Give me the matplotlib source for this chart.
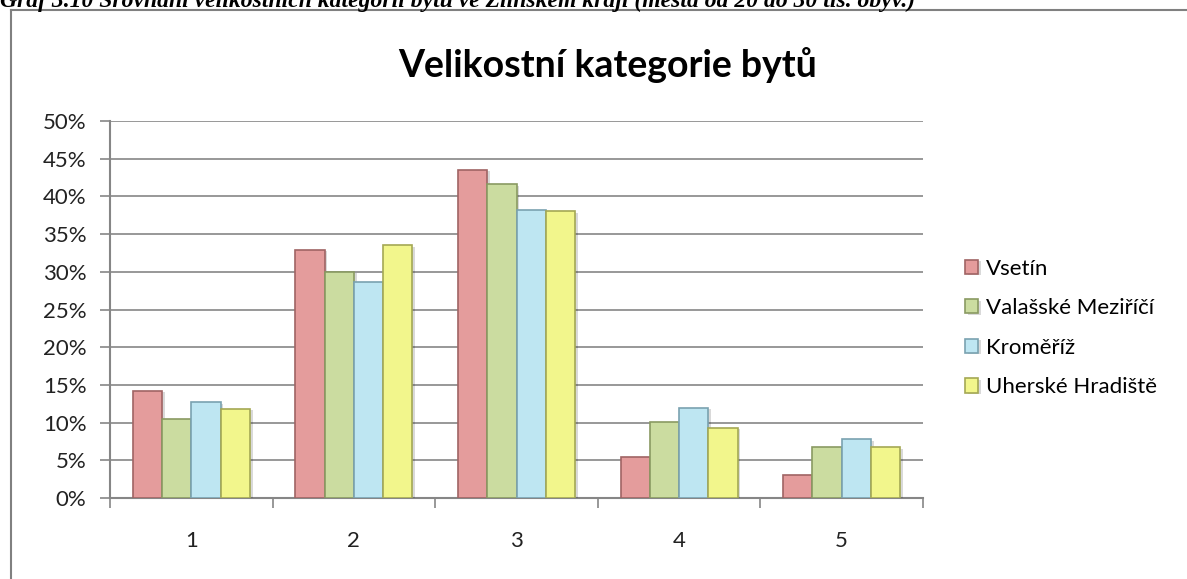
import numpy as np
import matplotlib
matplotlib.use("Agg")
import matplotlib.pyplot as plt
import matplotlib.patheffects as pe

# Data (share of flats by size category)
categories = ["1", "2", "3", "4", "5"]
towns = ["Vsetín", "Valašské Meziříčí", "Kroměříž", "Uherské Hradiště"]
vsetin = [14.2, 32.9, 43.5, 5.4, 3.0]
valmez = [10.5, 30.0, 41.6, 10.1, 6.8]
kromeriz = [12.7, 28.6, 38.2, 12.0, 7.8]
uh_hradiste = [11.8, 33.5, 38.0, 9.3, 6.7]
series = [vsetin, valmez, kromeriz, uh_hradiste]

face_colors = ["#E49C9C", "#CBDCA0", "#BEE6F2", "#F2F68C"]
edge_colors = ["#A06464", "#8A9A62", "#7AA2B0", "#A4A854"]

plt.rcParams["font.family"] = ["Lato", "DejaVu Sans"]

fig = plt.figure(figsize=(11.87, 5.79), dpi=100)
ax = fig.add_axes([110 / 1187, 1 - 498 / 579, 813 / 1187, 377 / 579])

x = np.arange(len(categories))
width = 0.18
shadow = [pe.SimplePatchShadow(offset=(2, -1), alpha=0.15, shadow_rgbFace="black"), pe.Normal()]
for i, (vals, name) in enumerate(zip(series, towns)):
    offset = (i - 1.5) * width
    bars = ax.bar(x + offset, vals, width, color=face_colors[i], edgecolor=edge_colors[i],
                  linewidth=1.2, label=name, zorder=3)
    for b in bars:
        b.set_path_effects(shadow)

ax.set_ylim(0, 50)
ax.set_xlim(-0.5, len(categories) - 0.5)
ax.set_yticks(np.arange(0, 51, 5))
ax.set_yticklabels([f"{v}%" for v in range(0, 51, 5)], fontsize=16, color="#222222")
ax.yaxis.grid(True, color="#868686", linewidth=1.2, zorder=0)

# category boundaries as major ticks, labels as minor ticks
ax.set_xticks(np.arange(-0.5, len(categories), 1.0))
ax.set_xticklabels([])
ax.set_xticks(x, minor=True)
ax.set_xticklabels(categories, minor=True, fontsize=16, color="#222222")
ax.tick_params(axis="x", which="minor", length=0, pad=24)
ax.tick_params(axis="x", which="major", length=7, width=1.2, color="#868686")
ax.tick_params(axis="y", length=7, width=1.2, color="#868686", pad=10)

for side in ["top", "right"]:
    ax.spines[side].set_visible(False)
for side in ["left", "bottom"]:
    ax.spines[side].set_color("#868686")
    ax.spines[side].set_linewidth(1.5)

fig.text(608 / 1187, 1 - 65 / 579, "Velikostní kategorie bytů", ha="center", va="center",
         fontsize=27, fontweight="bold", color="black")

leg = ax.legend(loc="center left", bbox_to_anchor=(954 / 1187, 1 - 328 / 579),
                bbox_transform=fig.transFigure, frameon=False, fontsize=16,
                handlelength=0.6, handleheight=0.6, handletextpad=0.35,
                labelspacing=0.88, borderpad=0)

# caption cut off at the top of the image
fig.text(0, 1 - 7 / 579,
         "Graf 3.10 Srovnání velikostních kategorií bytů ve Zlínském kraji (města od 20 do 30 tis. obyv.)",
         ha="left", va="baseline", fontsize=17, family="Liberation Serif",
         fontweight="bold", fontstyle="italic")

# outer frame of the chart area
fig.add_artist(plt.Line2D([11 / 1187, 1], [1 - 10 / 579, 1 - 10 / 579],
                          transform=fig.transFigure, color="#808080", linewidth=1.5))
fig.add_artist(plt.Line2D([11 / 1187, 11 / 1187], [0, 1 - 10 / 579],
                          transform=fig.transFigure, color="#808080", linewidth=1.5))

fig.savefig("out.png", dpi=100)
